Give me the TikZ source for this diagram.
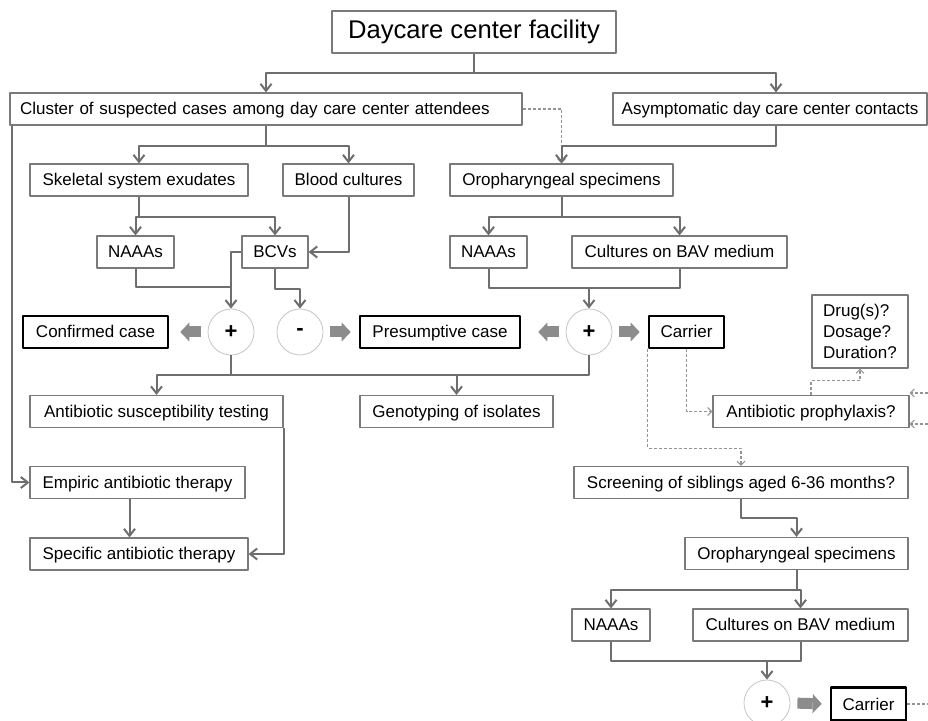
\documentclass[tikz,border=0pt]{standalone}
\usepackage{fontspec}
\setmainfont{Liberation Sans}
\usetikzlibrary{arrows.meta}
\definecolor{linegray}{HTML}{6E6E6E}
\definecolor{boxgray}{HTML}{7A7A7A}
\definecolor{dashgray}{HTML}{949494}
\definecolor{fatgray}{HTML}{8C8C8C}
\begin{document}
\begin{tikzpicture}[>={Straight Barb[length=7bp,width=11bp]},line join=bevel,
  font=\fontsize{17bp}{21bp}\selectfont,
  box/.style={draw=boxgray,line width=1.1bp,minimum height=32bp,inner sep=0bp,text height=14bp,text depth=2bp},
  strongbox/.style={draw=black,line width=2.6bp,minimum height=32bp,inner sep=0bp,text height=14bp,text depth=2bp},
  sign/.style={circle,draw=gray!45,line width=0.8bp,fill=white,minimum size=46bp,inner sep=0bp,font=\fontsize{22bp}{22bp}\selectfont\bfseries},
  edge/.style={linegray,line width=2bp,->},
  hint/.style={dashgray,line width=1.1bp,dash pattern=on 3bp off 2bp,-{Straight Barb[length=4bp,width=8bp]}},
  fat/.style={fatgray,line width=11bp,-{Triangle[length=9bp,width=19bp,line width=0bp]},shorten <=7bp,shorten >=8bp},
]
%%
\useasboundingbox (0bp,0bp) rectangle (928bp,721bp);
\node (title) at (474bp,689bp) [box,minimum width=284bp,minimum height=42bp,text height={},text depth={},font=\fontsize{25.6bp}{30bp}\selectfont] {Daycare center facility};
  \node (cluster) at (266bp,612bp) [box,inner xsep=10bp,text width=492bp,align=left] {Cluster of suspected cases among day care center attendees};
  \node (asym) at (770bp,612bp) [box,minimum width=314bp] {Asymptomatic day care center contacts};
  \node (skel) at (139bp,541bp) [box,minimum width=218bp] {Skeletal system exudates};
  \node (blood) at (348.5bp,541bp) [box,minimum width=131bp] {Blood cultures};
  \node (oro) at (561.5bp,541bp) [box,minimum width=223bp] {Oropharyngeal specimens};
  \node (naaL) at (135.5bp,469bp) [box,minimum width=77bp] {NAAAs};
  \node (bcv) at (275bp,469bp) [box,minimum width=66bp] {BCVs};
  \node (naaR) at (488.5bp,469bp) [box,minimum width=77bp] {NAAAs};
  \node (cultR) at (679.5bp,469bp) [box,minimum width=215bp] {Cultures on BAV medium};
  \node (plusL) at (231bp,389bp) [sign] {+};
  \node (minus) at (300bp,389bp) [sign] {-};
  \node (plusR) at (589bp,389bp) [sign] {+};
  \node (confirmed) at (95.5bp,389bp) [strongbox,minimum width=145bp] {Confirmed case};
  \node (presump) at (440bp,389bp) [strongbox,minimum width=160bp] {Presumptive case};
  \node (carrier) at (686.5bp,389bp) [strongbox,minimum width=75bp] {Carrier};
  \node (drug) at (860bp,389.5bp) [box,minimum width=96bp,minimum height=73bp,text height={},text depth={},align=left] {Drug(s)?\\Dosage?\\Duration?};
  \node (ast) at (156.5bp,309.5bp) [box,minimum width=253bp] {Antibiotic susceptibility testing};
  \node (geno) at (456.5bp,309.5bp) [box,minimum width=193bp] {Genotyping of isolates};
  \node (proph) at (811bp,309.5bp) [box,minimum width=196bp] {Antibiotic prophylaxis?};
  \node (empiric) at (137.5bp,238.5bp) [box,minimum width=215bp] {Empiric antibiotic therapy};
  \node (screen) at (741bp,238.5bp) [box,minimum width=334bp] {Screening of siblings aged 6-36 months?};
  \node (specific) at (139bp,167bp) [box,minimum width=218bp] {Specific antibiotic therapy};
  \node (oroB) at (796.5bp,167.5bp) [box,minimum width=223bp] {Oropharyngeal specimens};
  \node (naaB) at (611bp,96bp) [box,minimum width=78bp] {NAAAs};
  \node (cultB) at (800.5bp,96bp) [box,minimum width=215bp] {Cultures on BAV medium};
  \node (plusB) at (767bp,18bp) [sign] {+};
  \node (carrierB) at (868.5bp,17bp) [strongbox,minimum width=75bp,minimum height=33bp] {Carrier};
  \coordinate (jL) at (231bp,434bp);
  \coordinate (jR) at (589bp,433bp);
  \coordinate (jM) at (231bp,346bp);
  \coordinate (jB) at (767bp,60bp);
  \coordinate (inA) at (928bp,328bp);
  \coordinate (inB) at (928bp,297bp);
  \coordinate (outC) at (928bp,17bp);
%
  \draw [edge] (title.south) -- ++(0bp,-19bp) -| (cluster.north);
  \draw [edge] (title.south) -- ++(0bp,-19bp) -| ([xshift=6bp]asym.north);
  \draw [edge] (cluster.south) -- ++(0bp,-20bp) -| (skel.north);
  \draw [edge] (cluster.south) -- ++(0bp,-20bp) -| (blood.north);
  \draw [hint] (cluster.east) -| (oro.north);
  \draw [edge] ([xshift=6bp]asym.south) -- ++(0bp,-20bp) -| (oro.north);
  \draw [edge] (skel.south) -- ++(0bp,-20bp) -| (naaL.north);
  \draw [edge] (skel.south) -- ++(0bp,-20bp) -| (bcv.north);
  \draw [edge] (blood.south) |- (bcv.east);
  \draw [edge] (oro.south) -- ++(0bp,-20bp) -| (naaR.north);
  \draw [edge] (oro.south) -- ++(0bp,-20bp) -| (cultR.north);
  \draw [edge,-] (naaL.south) |- (jL);
  \draw [edge,-] (bcv.west) -| (jL);
  \draw [edge] (jL) -- (plusL.north);
  \draw [edge] (bcv.south) -- ++(0bp,-20bp) -| (minus.north);
  \draw [edge,-] (naaR.south) |- (jR) -| (cultR.south);
  \draw [edge] (jR) -- (plusR.north);
  \draw [fat,shorten >=11bp] (plusL.west) -- (confirmed.east);
  \draw [fat] (minus.east) -- (presump.west);
  \draw [fat,shorten >=17bp] (plusR.west) -- (presump.east);
  \draw [fat] (plusR.east) -- (carrier.west);
  \draw [edge,-] (plusL.south) -- (jM);
  \draw [edge,-] (plusR.south) |- (jM);
  \draw [edge] (jM) -| (ast.north);
  \draw [edge] (jM) -| (geno.north);
  \draw [edge] (ast.south east) |- (specific.east);
  \draw [edge] ([xshift=3bp]cluster.south west) |- (empiric.west);
  \draw [edge] ([xshift=-8bp]empiric.south) -- ([xshift=-8bp]empiric.south |- specific.north);
  \draw [hint] (carrier.south) |- (proph.west);
  \draw [hint] (carrier.south west) -- ++(0bp,-99bp) -| (screen.north);
  \draw [hint] (proph.north) -- ++(0bp,14bp) -| (drug.south);
  \draw [hint] (inA) -- (proph.north east |- inA);
  \draw [hint] (inB) -- (proph.east |- inB);
  \draw [edge] (screen.south) -- ++(0bp,-19bp) -| (oroB.north);
  \draw [edge] (oroB.south) -- ++(0bp,-20bp) -| (naaB.north);
  \draw [edge] (oroB.south) -- ++(0bp,-20bp) -| (cultB.north);
  \draw [edge,-] (naaB.south) |- (jB) -| (cultB.south);
  \draw [edge] (jB) -- (plusB.north);
  \draw [fat] (plusB.east) -- (carrierB.west);
  \draw [hint,-] (carrierB.east) -- (outC);
%
\end{tikzpicture}
\end{document}
